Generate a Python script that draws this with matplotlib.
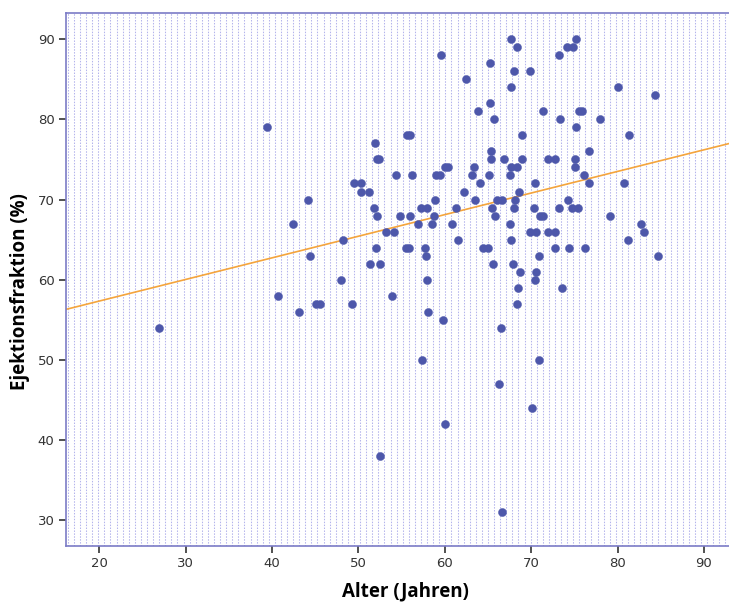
import numpy as np
import matplotlib
matplotlib.use("Agg")
import matplotlib.pyplot as plt

alter = [
    26.9, 39.4, 40.65, 42.45, 43.1, 44.1, 44.4, 45.1, 45.6, 48.0,
    48.2, 49.3, 49.5, 50.3, 50.3, 51.25, 51.3, 51.75, 51.9, 52.0,
    52.1, 52.1, 52.4, 52.45, 52.5, 53.2, 54.1, 53.85, 54.3, 54.8,
    55.5, 55.9, 55.6, 56.0, 55.96, 56.2, 56.85, 57.2, 57.96, 57.35,
    57.7, 57.8, 57.9, 58.05, 58.5, 58.7, 58.9, 59.0, 59.4, 59.6,
    59.8, 60.0, 60.4, 60.05, 60.8, 61.3, 61.55, 62.2, 62.4, 63.1,
    63.4, 63.45, 63.8, 64.1, 64.4, 64.95, 65.1, 65.2, 65.2, 65.3,
    65.4, 65.45, 65.6, 65.7, 65.8, 66.0, 66.6, 66.3, 66.45, 66.6,
    66.85, 67.5, 67.5, 67.65, 67.65, 67.7, 67.7, 68.3, 67.85, 67.95,
    68.0, 68.15, 68.3, 68.3, 68.45, 68.6, 68.65, 68.9, 68.9, 69.9,
    69.9, 70.6, 70.1, 70.3, 70.4, 70.4, 70.6, 70.9, 70.9, 71.0,
    71.4, 71.4, 71.9, 72.8, 71.9, 72.8, 72.7, 73.2, 73.2, 73.3,
    73.55, 74.1, 74.85, 74.3, 74.35, 74.7, 75.4, 75.1, 75.1, 75.2,
    75.2, 75.5, 75.9, 76.1, 76.2, 76.7, 76.7, 78.0, 79.15, 80.07,
    80.7, 81.25, 81.3, 82.7, 83.05, 84.3, 84.7,
]
ejektion = [
    54, 79, 58, 67, 56, 70, 63, 57, 57, 60,
    65, 57, 72, 72, 71, 71, 62, 69, 77, 64,
    68, 75, 75, 38, 62, 66, 66, 58, 73, 68,
    64, 64, 78, 78, 68, 73, 67, 69, 69, 50,
    64, 63, 60, 56, 67, 68, 70, 73, 73, 88,
    55, 74, 74, 42, 67, 69, 65, 71, 85, 73,
    74, 70, 81, 72, 64, 64, 73, 87, 82, 76,
    75, 69, 62, 80, 68, 70, 70, 47, 54, 31,
    75, 73, 67, 90, 65, 84, 74, 74, 62, 86,
    69, 70, 89, 57, 59, 71, 61, 78, 75, 86,
    66, 66, 44, 69, 72, 60, 61, 63, 50, 68,
    68, 81, 75, 75, 66, 66, 64, 88, 69, 80,
    59, 89, 89, 70, 64, 69, 69, 75, 74, 90,
    79, 81, 81, 73, 64, 76, 72, 80, 68, 84,
    72, 65, 78, 67, 66, 83, 63,
]

x_ticks = [20, 30, 40, 50, 60, 70, 80, 90]
y_ticks = [30, 40, 50, 60, 70, 80, 90]
x_lim = (16.1, 92.9)
y_lim = (26.75, 93.25)

fig = plt.figure(figsize=(7.29, 6.02), dpi=100)
ax = fig.add_axes([0.0901, 0.093, 0.9099, 0.885])

# SPSS-Hintergrund: gepunktete senkrechte Linien
for xv in np.arange(x_lim[0] + 0.25, x_lim[1], 0.705):
    ax.axvline(xv, color="#b4b4ec", lw=0.75, ls=(0, (1.4, 1.4)), zorder=0)

ax.scatter(alter, ejektion, s=34, color="#4d57aa", edgecolors="#4d57aa",
           linewidths=0.3, zorder=3)

# lineare Anpassung
b, a = np.polyfit(alter, ejektion, 1)
xs = np.array(x_lim)
ax.plot(xs, a + b * xs, color="#f5a53c", lw=1.2, zorder=2)

ax.set_xlim(*x_lim)
ax.set_ylim(*y_lim)
ax.set_xticks(x_ticks)
ax.set_yticks(y_ticks)

for side in ["left", "bottom", "top"]:
    ax.spines[side].set_color("#7b7bc6")
    ax.spines[side].set_linewidth(1.2)
ax.spines["right"].set_visible(False)

ax.tick_params(direction="out", length=5, width=1.2, color="#333333",
               labelcolor="#333333", labelsize=9.5, pad=3)

ax.set_xlabel("Alter (Jahren)", fontsize=13.5, fontweight="bold",
              family="Open Sans")
ax.set_ylabel("Ejektionsfraktion (%)", fontsize=13.5, fontweight="bold",
              family="Open Sans")
ax.xaxis.set_label_coords(0.512, -0.066)
ax.yaxis.set_label_coords(-0.054, 0.477)

fig.savefig("out.png", dpi=100)
